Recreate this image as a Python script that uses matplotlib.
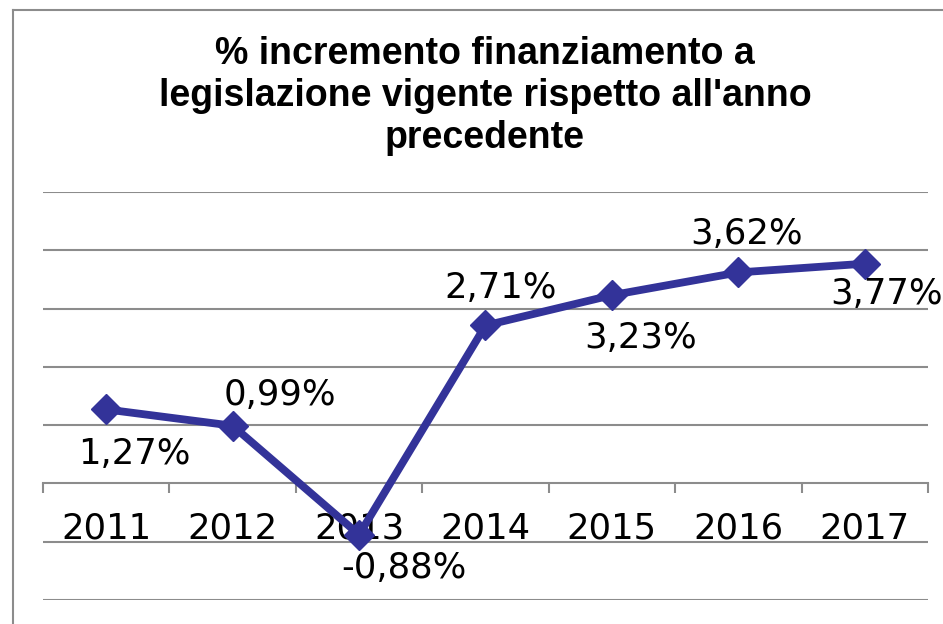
import matplotlib.pyplot as plt
from matplotlib.lines import Line2D

years = ['2011', '2012', '2013', '2014', '2015', '2016', '2017']
values = [1.27, 0.99, -0.88, 2.71, 3.23, 3.62, 3.77]
labels = ['1,27%', '0,99%', '-0,88%', '2,71%', '3,23%', '3,62%', '3,77%']
# label offsets (points) from each point, as placed in the original
label_dx = [20, 34, 32, 11, 21, 6, 16]
label_dy = [-32, 22, -24, 27, -31, 28, -22]

title = "% incremento finanziamento a\nlegislazione vigente rispetto all'anno\nprecedente"

W, H = 943, 624
fig = plt.figure(figsize=(W / 100, H / 100), dpi=100)
ax = fig.add_axes([43 / W, 24 / H, 885 / W, 408 / H])

x = list(range(len(years)))
ax.plot(x, values, color='#333399', linewidth=5.6, marker='D',
        markersize=15, solid_joinstyle='miter', zorder=3, clip_on=False)

for i, (v, lab) in enumerate(zip(values, labels)):
    ax.annotate(lab, (i, v), xytext=(label_dx[i], label_dy[i]),
                textcoords='offset points', ha='center', va='center',
                fontsize=25.5, family='DejaVu Sans', zorder=4)

ax.set_xlim(-0.5, 6.5)
ax.set_ylim(-2, 5)
ax.set_yticks([-2, -1, 1, 2, 3, 4, 5])
ax.yaxis.grid(True, color='#8c8c8c', linewidth=1.5)
ax.tick_params(axis='y', left=False, labelleft=False)

for s in ['top', 'right', 'left']:
    ax.spines[s].set_visible(False)
ax.spines['bottom'].set_position(('data', 0))
ax.spines['bottom'].set_color('#8c8c8c')
ax.spines['bottom'].set_linewidth(1.5)

ax.set_xticks(x)
ax.set_xticklabels(years, fontsize=25.5, family='DejaVu Sans')
ax.tick_params(axis='x', which='major', length=0, pad=20)
ax.set_xticks([i - 0.5 for i in range(len(years) + 1)], minor=True)
ax.tick_params(axis='x', which='minor', length=7, width=1.5,
               color='#8c8c8c', direction='out')
ax.set_axisbelow(True)

fig.text(485 / W, 1 - 96 / H, title, ha='center', va='center',
         fontsize=27, fontweight='bold', family='Liberation Sans',
         linespacing=1.2)

# chart frame (only left and top edges visible)
fig.add_artist(Line2D([13 / W, 1], [1 - 10 / H, 1 - 10 / H],
                      color='#8c8c8c', linewidth=1.5))
fig.add_artist(Line2D([13 / W, 13 / W], [0, 1 - 10 / H],
                      color='#8c8c8c', linewidth=1.5))

fig.savefig('out.png', dpi=100)
